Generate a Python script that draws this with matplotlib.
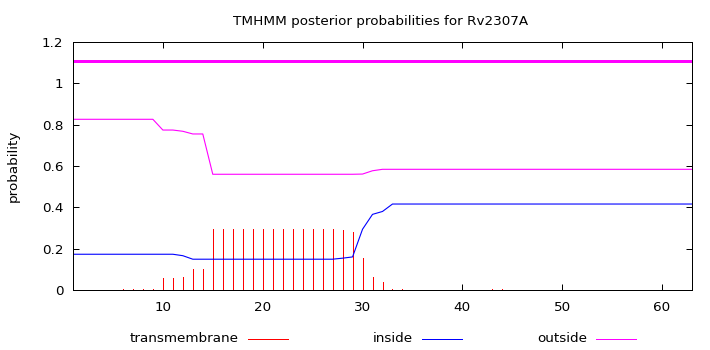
import matplotlib
matplotlib.use('Agg')
import matplotlib.pyplot as plt
from matplotlib.lines import Line2D

plt.rcParams['font.family'] = ['DejaVu Sans']

seq_name = 'Rv2307A'
residues = list(range(1, 64))

transmembrane = [
    0, 0, 0, 0, 0, 0.005, 0.005, 0.005, 0.005, 0.057,
    0.057, 0.064, 0.101, 0.101, 0.295, 0.295, 0.295, 0.295, 0.295, 0.295,
    0.295, 0.295, 0.295, 0.295, 0.295, 0.295, 0.295, 0.290, 0.282, 0.156,
    0.064, 0.039, 0.006, 0.005, 0, 0, 0, 0, 0, 0,
    0, 0, 0.003, 0.003, 0, 0, 0, 0, 0, 0,
    0, 0, 0, 0, 0, 0, 0, 0, 0, 0,
    0, 0, 0,
]
inside = [
    0.173, 0.173, 0.173, 0.173, 0.173, 0.173, 0.173, 0.173, 0.173, 0.173,
    0.173, 0.166, 0.149, 0.149, 0.149, 0.149, 0.149, 0.149, 0.149, 0.149,
    0.149, 0.149, 0.149, 0.149, 0.149, 0.149, 0.149, 0.154, 0.160, 0.294,
    0.366, 0.380, 0.416, 0.416, 0.416, 0.416, 0.416, 0.416, 0.416, 0.416,
    0.416, 0.416, 0.416, 0.416, 0.416, 0.416, 0.416, 0.416, 0.416, 0.416,
    0.416, 0.416, 0.416, 0.416, 0.416, 0.416, 0.416, 0.416, 0.416, 0.416,
    0.416, 0.416, 0.416,
]
outside = [
    0.826, 0.826, 0.826, 0.826, 0.826, 0.826, 0.826, 0.826, 0.826, 0.774,
    0.774, 0.768, 0.755, 0.755, 0.560, 0.560, 0.560, 0.560, 0.560, 0.560,
    0.560, 0.560, 0.560, 0.560, 0.560, 0.560, 0.560, 0.560, 0.560, 0.561,
    0.577, 0.584, 0.584, 0.584, 0.584, 0.584, 0.584, 0.584, 0.584, 0.584,
    0.584, 0.584, 0.584, 0.584, 0.584, 0.584, 0.584, 0.584, 0.584, 0.584,
    0.584, 0.584, 0.584, 0.584, 0.584, 0.584, 0.584, 0.584, 0.584, 0.584,
    0.584, 0.584, 0.584,
]

# predicted topology: (region, start, end, level)
topology = [('outside', 1, 63, 1.11)]

colors = {'transmembrane': '#ff0000', 'inside': '#0000ff', 'outside': '#ff00ff'}

yticks = [0, 0.2, 0.4, 0.6, 0.8, 1.0, 1.2]
ytick_labels = ['0', '0.2', '0.4', '0.6', '0.8', '1', '1.2']
xticks = [10, 20, 30, 40, 50, 60]

FS = 9.7
LW = 0.72  # one pixel at 100 dpi

fig = plt.figure(figsize=(7.1, 3.5), dpi=100)
ax = fig.add_axes([73 / 710, 1 - 290 / 350, 619 / 710, 248 / 350])

ax.vlines(residues, 0, transmembrane, colors=colors['transmembrane'],
          linewidth=LW, antialiased=False)
ax.plot(residues, inside, color=colors['inside'], linewidth=0.8)
ax.plot(residues, outside, color=colors['outside'], linewidth=0.8)
for region, start, end, level in topology:
    ax.plot([start, end], [level, level], color=colors[region], linewidth=2.0,
            solid_capstyle='butt', antialiased=False)

ax.set_xlim(1, 63)
ax.set_ylim(0, 1.2)
ax.set_xticks(xticks)
ax.set_yticks(yticks)
ax.set_yticklabels(ytick_labels)
ax.tick_params(direction='in', length=4, width=LW, top=True, right=True,
               labelsize=FS)
ax.tick_params(axis='x', pad=8)
ax.tick_params(axis='y', pad=7)
for spine in ax.spines.values():
    spine.set_linewidth(LW)

fig.text(381 / 710, 1 - 25.5 / 350, f'TMHMM posterior probabilities for {seq_name}',
         ha='center', va='baseline', fontsize=FS)
fig.text(13 / 710, 1 - 166 / 350, 'probability', rotation=90, ha='center',
         va='center', fontsize=FS)

# key along the bottom: text right-aligned, sample line after it
key_y = 1 - 339 / 350
for i, name in enumerate(['transmembrane', 'inside', 'outside']):
    x_text = (239 + i * 174) / 710
    fig.text(x_text, key_y, name, ha='right', va='center', fontsize=FS)
    x0 = (248 + i * 174) / 710
    x1 = (288 + i * 174) / 710
    fig.add_artist(Line2D([x0, x1], [key_y, key_y], color=colors[name],
                          linewidth=LW, antialiased=False,
                          transform=fig.transFigure))

fig.savefig('out.png', dpi=100)
